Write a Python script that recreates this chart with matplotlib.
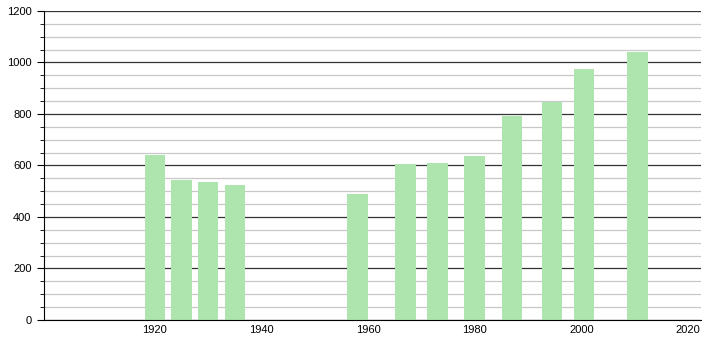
import matplotlib
matplotlib.use("Agg")
import matplotlib.pyplot as plt
from matplotlib.ticker import MultipleLocator

years = [1920, 1925, 1930, 1935, 1958, 1967, 1973, 1980, 1987, 1994.5, 2000.5, 2010.5]
population = [640, 543, 535, 524, 489, 605, 608, 636, 791, 848, 974, 1040]
x_ticks = [1920, 1940, 1960, 1980, 2000, 2020]
y_ticks = [0, 200, 400, 600, 800, 1000, 1200]

plt.rcParams['font.family'] = ['Liberation Sans', 'DejaVu Sans']
fig = plt.figure(figsize=(7.1, 3.4), dpi=100)
ax = fig.add_axes([0.062, 0.059, 0.925, 0.909])

ax.set_xlim(1899.2, 2022.4)
ax.set_ylim(0, 1200)
ax.yaxis.set_major_locator(MultipleLocator(200))
ax.yaxis.set_minor_locator(MultipleLocator(50))
ax.set_yticks(y_ticks)
ax.set_xticks(x_ticks)
ax.set_xticklabels([str(t) for t in x_ticks])

ax.grid(axis='y', which='major', color='#333333', linewidth=0.9, zorder=0)
ax.grid(axis='y', which='minor', color='#c8c8c8', linewidth=0.9, zorder=0)
ax.set_axisbelow(True)

ax.bar(years, population, width=3.85, color='#aee4ae', zorder=2)

for s in ['top', 'right']:
    ax.spines[s].set_visible(False)
ax.spines['left'].set_color('black')
ax.spines['bottom'].set_color('black')
ax.tick_params(axis='x', length=0, labelsize=8, pad=4)
ax.tick_params(axis='y', which='major', length=5, labelsize=8, pad=4)
ax.tick_params(axis='y', which='minor', length=3)

fig.savefig('out.png', dpi=100)
